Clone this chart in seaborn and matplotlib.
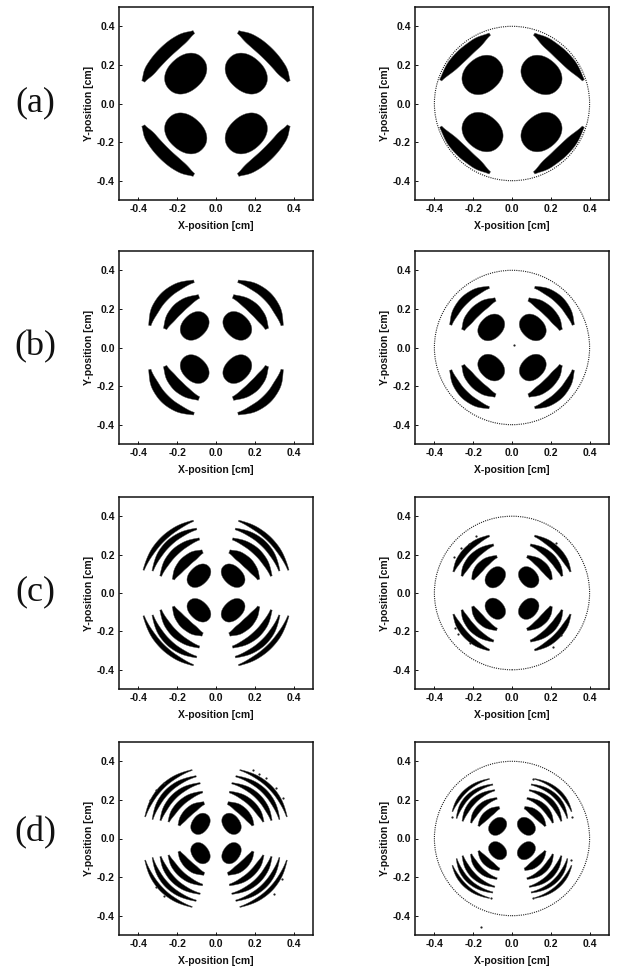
import numpy as np
import pandas as pd
import matplotlib
matplotlib.use('Agg')
import matplotlib.pyplot as plt
from matplotlib.patches import Circle
import seaborn as sns

sns.set_style('ticks')
plt.rcParams['font.family'] = ['Liberation Sans', 'DejaVu Sans']

# one quadrant of each pattern (upper right), x, y, half width along every stripe
# blobs are cx, cy, semi major, semi minor, tilt
a_left_blob = (0.156, 0.155, 0.118, 0.09, -42)
a_left_bands = [
    [(0.115, 0.37, .006), (0.16, 0.345, .026), (0.21, 0.305, .033), (0.26, 0.265, .034),
     (0.305, 0.225, .033), (0.345, 0.16, .028), (0.375, 0.115, .006)],
]
a_right_blob = (0.152, 0.148, 0.112, 0.09, -40)
a_right_bands = [
    [(0.115, 0.36, .005), (0.17, 0.32, .026), (0.25, 0.255, .032), (0.295, 0.21, .03),
     (0.32, 0.185, .026), (0.367, 0.12, .005)],
]
b_left_blob = (0.11, 0.112, 0.082, 0.062, -45)
b_left_bands = [
    [(0.088, 0.264, .009), (0.148, 0.237, .025), (0.195, 0.2, .03), (0.237, 0.148, .025), (0.262, 0.097, .008)],
    [(0.115, 0.342, .006), (0.185, 0.32, .02), (0.264, 0.267, .024), (0.32, 0.185, .021), (0.34, 0.115, .005)],
]
b_right_blob = (0.107, 0.104, 0.076, 0.058, -45)
b_right_bands = [
    [(0.085, 0.248, .008), (0.135, 0.228, .024), (0.187, 0.187, .028), (0.228, 0.135, .024), (0.252, 0.092, .007)],
    [(0.118, 0.31, .005), (0.175, 0.295, .018), (0.244, 0.244, .022), (0.295, 0.175, .018), (0.315, 0.118, .005)],
]
c_left_blob = (0.088, 0.09, 0.07, 0.048, -45)
c_left_bands = [
    [(.069, .215, .008), (.112, .198, .024), (.163, .155, .028), (.198, .111, .021), (.22, .071, .005)],
    [(.086, .28, .005), (.146, .262, .015), (.206, .215, .019), (.258, .155, .016), (.284, .089, .004)],
    [(.1, .332, .004), (.172, .311, .013), (.241, .259, .016), (.292, .198, .014), (.326, .116, .003)],
    [(.117, .375, .003), (.189, .345, .011), (.266, .29, .013), (.326, .215, .012), (.373, .12, .003)],
]
c_right_blob = (0.086, 0.082, 0.06, 0.045, -50)
c_right_bands = [
    [(.077, .189, .006), (.129, .168, .02), (.167, .128, .023), (.189, .094, .017), (.203, .071, .005)],
    [(.095, .25, .005), (.155, .224, .016), (.206, .181, .02), (.241, .128, .016), (.258, .089, .004)],
    [(.117, .297, .004), (.18, .267, .014), (.241, .215, .016), (.278, .163, .014), (.301, .111, .003)],
]
d_left_blob = (0.08, 0.076, 0.059, 0.043, -55)
d_left_bands = [
    [(.06, .182, .007), (.112, .165, .021), (.146, .13, .022), (.172, .095, .017), (.192, .069, .005)],
    [(.069, .24, .004), (.137, .217, .014), (.189, .174, .016), (.223, .13, .014), (.244, .087, .003)],
    [(.082, .285, .003), (.163, .26, .012), (.223, .208, .014), (.266, .148, .012), (.285, .095, .003)],
    [(.103, .321, .003), (.189, .292, .011), (.258, .234, .013), (.301, .174, .011), (.326, .1, .002)],
    [(.124, .354, .002), (.206, .321, .009), (.284, .26, .011), (.335, .191, .009), (.364, .113, .002)],
]
d_right_blob = (0.074, 0.063, 0.052, 0.039, -45)
d_right_bands = [
    [(.064, .159, .006), (.103, .145, .018), (.134, .114, .02), (.155, .091, .015), (.172, .065, .004)],
    [(.077, .207, .004), (.137, .187, .013), (.172, .152, .015), (.194, .119, .013), (.211, .082, .003)],
    [(.089, .249, .003), (.155, .227, .011), (.203, .187, .014), (.235, .14, .012), (.254, .091, .003)],
    [(.1, .279, .003), (.172, .256, .009), (.232, .209, .011), (.266, .166, .01), (.284, .105, .002)],
    [(.117, .308, .002), (.189, .282, .007), (.249, .235, .009), (.284, .192, .008), (.306, .14, .002)],
]

# stray points seen outside the stripes
c_right_specks_x = [-0.262, -0.22, -0.183, -0.3, -0.294, -0.277, -0.217, 0.227, 0.25, 0.21]
c_right_specks_y = [0.236, 0.253, 0.299, 0.188, -0.183, -0.214, -0.262, 0.262, -0.22, -0.28]
d_right_specks_x = [0.31, -0.31, -0.16, 0.11, -0.11, 0.11, 0.305]
d_right_specks_y = [0.11, 0.11, -0.46, 0.31, -0.31, -0.31, -0.11]
b_right_specks_x = [0.01]
b_right_specks_y = [0.015]
d_left_specks_x = [.189, .223, .258, .309, .344, -.27, -.31, -.34, -.27, -.31, .3, .34]
d_left_specks_y = [.356, .333, .312, .26, .208, .29, .25, .2, -.3, -.25, -.29, -.21]

ticks = [-0.4, -0.2, 0.0, 0.2, 0.4]
tick_labels = ['-0.4', '-0.2', '0.0', '0.2', '0.4']
row_names = ['(a)', '(b)', '(c)', '(d)']

W, H = 619, 966
fig = plt.figure(figsize=(W/100, H/100), dpi=100)


def make_axes(left, right, top, bottom):
    ax = fig.add_axes([left/W, 1-bottom/H, (right-left)/W, (bottom-top)/H])
    ax.set_xlim(-0.5, 0.5); ax.set_ylim(-0.5, 0.5)
    ax.set_xticks(ticks); ax.set_xticklabels(tick_labels, fontweight='bold')
    ax.set_yticks(ticks); ax.set_yticklabels(tick_labels, fontweight='bold')
    ax.tick_params(direction='in', length=2, width=0.7, labelsize=7.5, pad=3, colors='#111111')
    ax.set_xlabel('X-position [cm]', fontsize=7.5, fontweight='bold', labelpad=5, color='#111111')
    ax.set_ylabel('Y-position [cm]', fontsize=7.5, fontweight='bold', labelpad=2, color='#111111')
    for s in ax.spines.values():
        s.set_linewidth(1.1); s.set_color('#111111')
    return ax


def band_outline(nodes):
    pts = np.array(nodes)
    # chord length parameter, a quadratic fit keeps the stripes free of hooks
    t = np.r_[0, np.cumsum(np.hypot(np.diff(pts[:, 0]), np.diff(pts[:, 1])))]
    t = t/t[-1]
    tt = np.linspace(0, 1, 50)
    x = np.polyval(np.polyfit(t, pts[:, 0], 2), tt)
    y = np.polyval(np.polyfit(t, pts[:, 1], 2), tt)
    w = np.interp(tt, t, pts[:, 2])
    w = np.convolve(np.r_[[w[0]]*3, w, [w[-1]]*3], np.ones(7)/7, mode='valid')
    dx, dy = np.gradient(x), np.gradient(y)
    n = np.hypot(dx, dy)
    xo, yo = x + w*dy/n, y - w*dx/n
    xi, yi = x - w*dy/n, y + w*dx/n
    return np.r_[xo, xi[::-1]], np.r_[yo, yi[::-1]]


def blob_outline(blob):
    cx, cy, major, minor, tilt = blob
    p = np.linspace(0, 2*np.pi, 80)
    u = major*np.sign(np.cos(p))*np.abs(np.cos(p))**0.92
    v = minor*np.sign(np.sin(p))*np.abs(np.sin(p))**0.92
    r = np.radians(tilt)
    return cx + u*np.cos(r) - v*np.sin(r), cy + u*np.sin(r) + v*np.cos(r)


def draw_pattern(ax, blob, bands):
    bx, by = blob_outline(blob)
    for sx in (1, -1):
        for sy in (1, -1):
            ax.fill(sx*bx, sy*by, fc='black', ec='#555555', lw=0.3)
            for nodes in bands:
                xs, ys = band_outline(nodes)
                ax.fill(sx*xs, sy*ys, fc='black', ec='#555555', lw=0.3)


def draw_specks(ax, xs, ys):
    specks = pd.DataFrame({'x': xs, 'y': ys})
    sns.scatterplot(data=specks, x='x', y='y', s=2.5, color='#222222', linewidth=0, ax=ax)
    ax.set_xlabel('X-position [cm]'); ax.set_ylabel('Y-position [cm]')


rows_y = [(7, 200), (251, 444), (497, 689), (742, 935)]
left_patterns = [(a_left_blob, a_left_bands), (b_left_blob, b_left_bands),
                 (c_left_blob, c_left_bands), (d_left_blob, d_left_bands)]
right_patterns = [(a_right_blob, a_right_bands), (b_right_blob, b_right_bands),
                  (c_right_blob, c_right_bands), (d_right_blob, d_right_bands)]
left_specks = [([], []), ([], []), ([], []), (d_left_specks_x, d_left_specks_y)]
right_specks = [([], []), (b_right_specks_x, b_right_specks_y),
                (c_right_specks_x, c_right_specks_y), (d_right_specks_x, d_right_specks_y)]
label_y = [103, 347, 592, 833]

for i in range(4):
    top, bottom = rows_y[i]
    ax = make_axes(119, 313, top, bottom)
    draw_pattern(ax, *left_patterns[i])
    if len(left_specks[i][0]):
        draw_specks(ax, *left_specks[i])

    ax = make_axes(415, 609, top, bottom)
    draw_pattern(ax, *right_patterns[i])
    ax.add_patch(Circle((0, 0), 0.4, fill=False, ec='#222222', lw=0.8, ls=(0, (1, 1))))
    if len(right_specks[i][0]):
        draw_specks(ax, *right_specks[i])

    fig.text(35/W, 1-label_y[i]/H, row_names[i], family='Liberation Serif', fontsize=26,
             ha='center', va='center', color='#111111')

fig.savefig('out.png', dpi=100)
plt.close()
